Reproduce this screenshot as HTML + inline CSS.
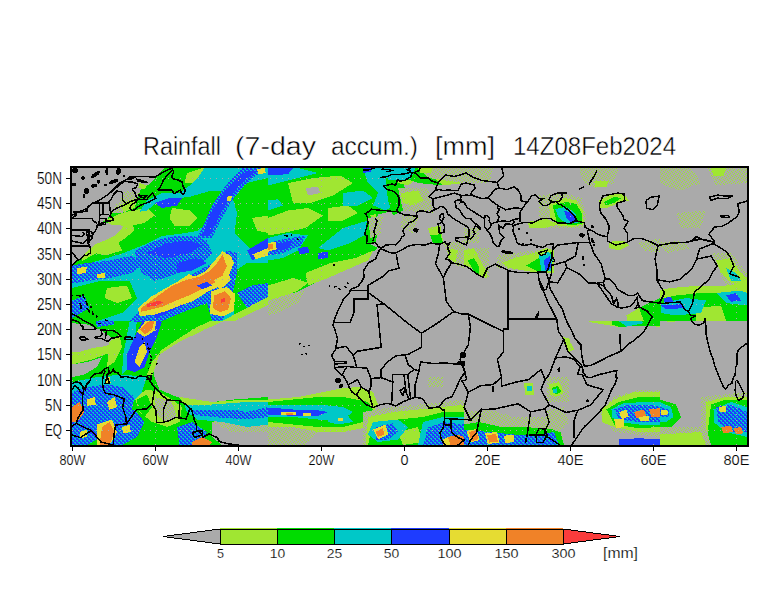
<!DOCTYPE html>
<html><head><meta charset="utf-8"><style>
html,body{margin:0;padding:0;background:#fff;width:784px;height:612px;overflow:hidden}
svg{display:block}
</style></head><body>
<svg width="784" height="612" viewBox="0 0 784 612" shape-rendering="crispEdges">
<defs><clipPath id="mc"><rect x="72" y="168" width="675" height="277"/></clipPath></defs>
<rect width="784" height="612" fill="#fff"/>
<rect x="72" y="168" width="675" height="277" fill="#aaaaaa"/>
<g clip-path="url(#mc)"><defs>
<pattern id="pB" width="4" height="4" patternUnits="userSpaceOnUse"><rect width="4" height="4" fill="#1e3cff"/><rect x="0" y="0" width="2" height="1" fill="#00c8c8"/><rect x="2" y="2" width="2" height="1" fill="#00c8c8"/><rect x="1" y="1" width="1" height="1" fill="#00c8c8"/><rect x="3" y="3" width="1" height="1" fill="#00c8c8"/></pattern>
<pattern id="pL" width="4" height="4" patternUnits="userSpaceOnUse"><rect width="4" height="4" fill="#aaaaaa"/><rect x="0" y="0" width="1" height="1" fill="#a0e632"/><rect x="2" y="1" width="1" height="1" fill="#a0e632"/><rect x="1" y="2" width="1" height="1" fill="#a0e632"/><rect x="3" y="3" width="1" height="1" fill="#a0e632"/></pattern>
<pattern id="pG" width="4" height="4" patternUnits="userSpaceOnUse"><rect width="4" height="4" fill="#00dc00"/><rect x="0" y="0" width="2" height="1" fill="#a0e632"/><rect x="2" y="2" width="2" height="1" fill="#a0e632"/></pattern>
<pattern id="pC" width="4" height="4" patternUnits="userSpaceOnUse"><rect width="4" height="4" fill="#00c8c8"/><rect x="0" y="0" width="2" height="1" fill="#00dc00"/><rect x="2" y="2" width="2" height="1" fill="#00dc00"/></pattern>
</defs>
<clipPath id="z72_168"><rect x="72" y="168" width="196" height="153"/></clipPath><g clip-path="url(#z72_168)">
<polygon fill="#00dc00" points="72.0,264.2 82.0,256.8 89.5,249.2 95.8,244.2 104.5,240.5 114.5,235.5 122.0,228.0 124.5,223.0 118.2,221.8 109.5,223.0 99.5,223.5 107.0,219.2 111.5,213.5 116.0,204.5 122.2,197.2 125.0,191.0 139.2,193.0 141.0,188.5 150.0,184.0 158.0,175.0 164.5,168.0 268.0,168.0 268.0,321.0 72.0,321.0"/>
<polygon fill="url(#pL)" points="111.5,213.5 116.0,204.5 122.2,197.2 125.0,191.0 139.2,193.0 141.0,188.5 134.5,208.0 122.0,213.0"/>
<polygon fill="#a0e632" points="119.5,205.5 129.5,200.5 137.0,198.0 134.5,208.0 124.5,211.8"/>
<polygon fill="#a0e632" points="82.0,256.8 89.5,249.2 95.8,244.2 104.5,240.5 114.5,235.5 122.0,228.0 124.5,223.0 132.0,221.8 134.5,230.5 122.0,240.5 109.5,248.0 94.5,254.2 82.0,261.0"/>
<polygon fill="#a0e632" points="104.5,220.5 122.0,213.0 132.0,210.5 147.0,208.0 154.5,215.5 144.5,223.0 129.5,226.0 112.0,225.0"/>
<polygon fill="#a0e632" points="172.0,208.0 189.5,210.5 197.0,218.0 189.5,225.5 174.5,225.5 169.5,218.0"/>
<polygon fill="#a0e632" points="187.0,173.0 202.0,168.0 212.0,168.0 207.0,178.0 194.5,183.0 184.5,183.0"/>
<polygon fill="#a0e632" points="97.0,243.0 117.0,240.5 122.0,250.5 104.5,255.5 94.5,253.0"/>
<polygon fill="#a0e632" points="139.5,183.0 147.0,185.5 144.5,189.2 138.2,188.0"/>
<polygon fill="#00c8c8" points="139.5,211.8 147.0,200.5 162.0,193.0 179.5,193.0 189.5,185.5 199.5,175.5 204.5,168.0 268.0,168.0 268.0,178.0 247.0,183.0 232.0,190.5 212.0,190.5 189.5,196.8 172.0,199.2 154.5,204.2 147.0,210.5"/>
<polygon fill="#00c8c8" points="72.0,268.0 97.0,261.0 122.0,253.5 147.0,243.5 162.0,236.0 182.0,233.5 197.0,231.0 207.0,223.5 212.0,205.5 222.0,193.0 234.5,183.0 247.0,178.0 268.0,175.5 268.0,321.0 72.0,321.0"/>
<polygon fill="#00dc00" points="232.0,195.5 247.0,183.0 268.0,178.0 268.0,248.0 252.0,250.5 234.5,233.0 237.0,213.0"/>
<polygon fill="#a0e632" points="252.0,218.0 268.0,215.5 268.0,233.0 257.0,230.5"/>
<polygon fill="#00dc00" points="72.0,288.0 102.0,280.5 129.5,280.5 137.0,298.0 122.0,313.0 97.0,321.0 72.0,321.0"/>
<polygon fill="#a0e632" points="107.0,288.0 127.0,285.5 132.0,298.0 117.0,303.0 104.5,298.0"/>
<polygon fill="#00dc00" points="232.0,273.0 247.0,263.0 268.0,263.0 268.0,321.0 234.5,321.0"/>
<polygon fill="#a0e632" points="242.0,293.0 268.0,285.5 268.0,308.0 247.0,308.0"/>
<polygon fill="url(#pB)" points="197.0,238.0 212.0,238.0 222.0,218.0 232.0,200.5 244.5,185.5 259.5,173.0 262.0,168.0 242.0,168.0 232.0,178.0 222.0,190.5 212.0,205.5 204.5,223.0"/>
<polygon fill="#1e3cff" points="202.0,235.5 209.5,235.5 219.5,215.5 229.5,198.0 242.0,183.0 257.0,170.5 247.0,170.5 234.5,180.5 222.0,195.5 212.0,210.5 205.8,225.5"/>
<polygon fill="#1e3cff" points="154.5,203.0 169.5,198.0 182.0,198.0 177.0,205.5 162.0,208.0"/>
<polygon fill="url(#pB)" points="134.5,250.5 154.5,240.5 177.0,235.5 192.0,235.5 207.0,240.5 212.0,253.0 202.0,263.0 187.0,268.0 172.0,275.5 154.5,280.5 142.0,273.0 137.0,263.0"/>
<polygon fill="#1e3cff" points="147.0,253.0 167.0,243.0 189.5,240.5 202.0,245.5 189.5,253.0 167.0,258.0"/>
<polygon fill="#1e3cff" points="177.0,263.0 197.0,258.0 207.0,263.0 192.0,270.5 177.0,273.0"/>
<polygon fill="url(#pB)" points="72.0,265.5 87.0,263.0 109.5,260.5 132.0,255.5 144.5,263.0 132.0,273.0 109.5,278.0 87.0,281.0 72.0,283.5"/>
<polygon fill="url(#pB)" points="129.5,321.0 147.0,303.0 177.0,283.0 212.0,263.0 227.0,250.5 237.0,253.0 237.0,273.0 232.0,298.0 222.0,321.0"/>
<polygon fill="#1e3cff" points="142.0,308.0 172.0,290.5 202.0,273.0 222.0,258.0 232.0,255.5 232.0,268.0 217.0,285.5 197.0,298.0 177.0,308.0 157.0,318.0"/>
<polygon fill="#00dc00" points="162.0,321.0 187.0,310.5 207.0,303.0 212.0,321.0"/>
<polygon fill="#1e3cff" points="247.0,250.5 268.0,238.0 268.0,250.5 252.0,260.5"/>
<polygon fill="url(#pB)" points="237.0,293.0 252.0,285.5 268.0,283.0 268.0,298.0 247.0,308.0"/>
<polygon fill="url(#pB)" points="72.0,300.5 84.5,295.5 89.5,308.0 72.0,318.0"/>
<polygon fill="#a0e632" points="222.0,321.0 268.0,296.8 268.0,305.0 234.5,321.0"/>
<polygon fill="#aaaaaa" points="234.5,321.0 268.0,305.0 268.0,321.0"/>
<polygon fill="#e6dc32" points="137.8,308.8 149.8,297.5 163.8,289.2 179.0,280.8 189.0,273.8 194.5,276.5 205.8,271.0 214.2,261.2 222.5,251.2 231.0,256.2 233.8,263.2 228.2,277.2 221.2,285.8 208.5,291.2 193.0,301.0 179.0,306.0 166.5,311.0 152.5,315.2 139.8,315.8"/>
<polygon fill="#f08228" points="141.2,308.0 151.0,301.0 162.2,292.8 172.0,285.8 186.0,280.0 200.2,276.5 208.5,271.8 217.0,263.2 222.5,254.8 226.8,266.0 222.5,275.8 214.2,282.8 200.2,290.0 189.0,295.5 175.0,301.0 162.2,306.8 151.0,309.5 141.2,311.8"/>
<polygon fill="#1e3cff" points="197.0,285.5 207.0,281.8 212.0,285.5 202.0,289.2"/>
<polygon fill="#e6dc32" points="214.2,280.0 228.2,273.0 231.0,280.0 219.8,289.8"/>
<polygon fill="#e6dc32" points="211.2,291.2 226.8,287.0 235.2,294.0 233.8,311.0 222.5,316.5 210.0,313.8"/>
<polygon fill="#f08228" points="214.2,295.5 225.2,291.2 231.0,298.2 228.2,309.5 219.8,312.2 212.8,308.0"/>
<polygon fill="#fa3c3c" points="146.8,304.2 157.0,301.2 165.0,301.8 157.0,305.5 147.0,307.0"/>
<polygon fill="#fa3c3c" points="220.8,299.2 224.5,298.0 225.2,301.8 221.5,302.5"/>
<polygon fill="#e6dc32" points="77.0,268.0 87.0,266.8 85.8,273.0 77.0,274.2"/>
<polygon fill="#e6dc32" points="97.0,274.2 104.5,273.0 104.5,278.0 97.0,278.0"/>
<polygon fill="#e6dc32" points="227.0,196.8 232.0,195.5 230.8,200.5 226.5,201.0"/>
<polygon fill="#e6dc32" points="257.0,169.2 264.5,168.0 265.8,173.0 258.2,174.2"/>
<polygon fill="#e6dc32" points="253.2,254.2 268.0,248.0 268.0,255.5 255.8,259.2"/>
</g>
<clipPath id="z72_292"><rect x="72" y="321" width="196" height="124"/></clipPath><g clip-path="url(#z72_292)">
<polygon fill="#00dc00" points="72.0,292.0 268.0,292.0 268.0,445.0 72.0,445.0"/>
<polygon fill="#aaaaaa" points="268.0,307.0 247.0,312.0 222.0,319.5 202.0,329.5 187.0,337.0 172.0,344.5 159.5,354.5 152.0,364.5 154.5,377.0 159.5,389.5 177.0,397.0 192.0,402.0 212.0,402.0 234.5,399.5 268.0,397.0"/>
<polygon fill="#a0e632" points="268.0,302.0 247.0,307.0 222.0,315.8 197.0,327.0 177.0,339.5 162.0,349.5 152.0,362.0 147.0,374.5 152.0,377.0 159.5,354.5 177.0,343.2 202.0,330.8 227.0,319.5 268.0,310.8"/>
<polygon fill="#aaaaaa" points="72.0,323.2 87.0,324.5 99.5,329.5 114.5,339.5 107.0,345.8 92.0,348.2 79.5,352.0 72.0,352.0"/>
<polygon fill="#aaaaaa" points="72.0,364.5 87.0,362.0 102.0,357.0 97.0,367.0 84.5,374.5 72.0,377.0"/>
<polygon fill="#a0e632" points="72.0,352.0 79.5,352.0 92.0,348.2 107.0,345.8 114.5,339.5 122.0,342.0 112.0,352.0 92.0,359.5 72.0,364.5"/>
<polygon fill="#a0e632" points="134.5,397.0 147.0,389.5 159.5,392.0 172.0,399.5 182.0,407.0 179.5,422.0 167.0,427.0 152.0,422.0 139.5,412.0"/>
<polygon fill="url(#pL)" points="154.5,397.0 172.0,402.0 177.0,417.0 164.5,422.0 154.5,412.0"/>
<polygon fill="#00dc00" points="137.0,399.5 147.0,394.5 152.0,407.0 144.5,417.0 138.2,409.5"/>
<polygon fill="#aaaaaa" points="212.0,422.0 234.5,417.0 268.0,417.0 268.0,445.0 222.0,445.0 212.0,437.0"/>
<polygon fill="url(#pL)" points="212.0,422.0 234.5,417.0 268.0,417.0 268.0,432.0 232.0,432.0"/>
<polygon fill="#a0e632" points="179.5,397.0 212.0,402.0 247.0,399.5 268.0,399.5 268.0,404.5 222.0,407.0 184.5,404.5"/>
<polygon fill="#00dc00" points="102.0,312.0 127.0,307.0 147.0,317.0 134.5,332.0 127.0,354.5 117.0,374.5 102.0,377.0 109.5,354.5 114.5,339.5"/>
<polygon fill="#a0e632" points="109.5,342.0 119.5,334.5 122.0,347.0 114.5,362.0 107.0,367.0"/>
<polygon fill="#00c8c8" points="129.5,322.0 137.0,319.5 134.5,342.0 129.5,367.0 122.0,374.5 123.2,354.5"/>
<polygon fill="#00c8c8" points="72.0,292.0 102.0,292.0 102.0,312.0 72.0,319.5"/>
<polygon fill="#00c8c8" points="184.5,404.5 212.0,404.5 247.0,402.0 268.0,402.0 268.0,424.5 247.0,427.0 222.0,422.0 197.0,419.5 187.0,412.0"/>
<polygon fill="#00c8c8" points="72.0,382.0 97.0,377.0 122.0,374.5 147.0,377.0 142.0,392.0 132.0,402.0 117.0,412.0 97.0,417.0 72.0,422.0"/>
<polygon fill="#1e3cff" points="129.5,307.0 147.0,297.0 162.0,292.0 207.0,292.0 202.0,302.0 187.0,312.0 167.0,319.5 147.0,322.0 134.5,322.0"/>
<polygon fill="#1e3cff" points="207.0,312.0 222.0,302.0 232.0,292.0 252.0,292.0 247.0,304.5 232.0,314.5 217.0,317.0"/>
<polygon fill="#1e3cff" points="127.0,354.5 134.5,337.0 142.0,322.0 154.5,319.5 162.0,322.0 157.0,337.0 149.5,352.0 144.5,367.0 134.5,372.0 127.0,369.5"/>
<polygon fill="url(#pB)" points="94.5,317.0 112.0,315.8 114.5,324.5 97.0,327.0"/>
<polygon fill="url(#pB)" points="72.0,392.0 87.0,387.0 107.0,384.5 122.0,387.0 134.5,397.0 132.0,409.5 122.0,422.0 112.0,432.0 97.0,439.5 87.0,445.0 72.0,445.0"/>
<polygon fill="url(#pB)" points="112.0,412.0 134.5,409.5 144.5,422.0 137.0,437.0 122.0,445.0 107.0,445.0"/>
<polygon fill="url(#pB)" points="192.0,409.5 212.0,409.5 232.0,409.5 247.0,412.0 268.0,407.0 268.0,417.0 247.0,419.5 212.0,417.0 192.0,414.5"/>
<polygon fill="url(#pB)" points="177.0,427.0 192.0,422.0 207.0,432.0 202.0,445.0 179.5,445.0"/>
<polygon fill="#e6dc32" points="134.5,309.5 152.0,297.0 164.5,292.0 197.0,292.0 184.5,302.0 167.0,312.0 149.5,317.0 137.0,317.0"/>
<polygon fill="#f08228" points="139.5,307.0 154.5,299.5 169.5,292.0 189.5,292.0 177.0,302.0 162.0,309.5 147.0,314.5"/>
<polygon fill="#e6dc32" points="209.5,313.2 214.5,297.0 219.5,292.0 234.5,292.0 234.5,304.5 224.5,315.8"/>
<polygon fill="#f08228" points="212.0,309.5 217.0,299.5 222.0,292.0 232.0,292.0 229.5,302.0 222.0,312.0"/>
<polygon fill="#e6dc32" points="137.0,332.0 145.8,320.8 157.0,318.2 154.5,330.8 144.5,337.0"/>
<polygon fill="#f08228" points="139.5,329.5 147.0,322.0 154.5,319.5 152.0,329.5 144.5,334.5"/>
<polygon fill="#e6dc32" points="134.5,362.0 139.5,347.0 144.5,342.0 147.0,352.0 139.5,367.0"/>
<polygon fill="#e6dc32" points="97.0,424.5 112.0,419.5 117.0,432.0 109.5,445.0 97.0,445.0"/>
<polygon fill="#f08228" points="102.0,427.0 109.5,422.0 114.5,432.0 109.5,445.0 99.5,445.0"/>
<polygon fill="#f08228" points="72.0,407.0 79.5,402.0 84.5,412.0 77.0,422.0 72.0,422.0"/>
<polygon fill="#e6dc32" points="107.0,402.0 114.5,397.0 117.0,407.0 109.5,409.5"/>
<polygon fill="#e6dc32" points="87.0,399.5 94.5,397.0 95.8,404.5 87.0,405.8"/>
<polygon fill="#e6dc32" points="122.0,427.0 129.5,424.5 130.8,432.0 123.2,433.2"/>
<polygon fill="#e6dc32" points="79.5,432.0 87.0,429.5 87.0,437.0 79.5,438.2"/>
<polygon fill="#e6dc32" points="104.5,378.2 109.5,377.0 110.8,383.2 105.8,384.5"/>
<polygon fill="#f08228" points="192.0,442.0 202.0,437.0 212.0,442.0 209.5,445.0 192.0,445.0"/>
</g>
<clipPath id="z268_168"><rect x="268" y="168" width="196" height="153"/></clipPath><g clip-path="url(#z268_168)">
<polygon fill="#00dc00" points="268.0,168.0 385.5,168.0 398.0,183.0 398.0,205.5 385.5,213.0 368.0,215.5 365.5,230.5 368.0,243.0 378.0,248.0 368.0,255.5 353.0,263.0 333.0,273.0 305.5,288.0 283.0,298.0 268.0,304.2"/>
<polygon fill="#a0e632" points="288.0,183.0 313.0,178.0 340.5,175.5 353.0,183.0 333.0,195.5 310.5,203.0 293.0,203.0"/>
<polygon fill="#a0e632" points="268.0,218.0 288.0,210.5 308.0,208.0 323.0,215.5 305.5,228.0 283.0,233.0 268.0,235.5"/>
<polygon fill="#a0e632" points="328.0,208.0 348.0,205.5 358.0,213.0 343.0,220.5 328.0,220.5"/>
<polygon fill="#a0e632" points="305.5,273.0 330.5,263.0 355.5,258.0 373.0,250.5 368.0,260.5 348.0,269.2 328.0,278.0 308.0,285.5"/>
<polygon fill="#a0e632" points="268.0,285.5 293.0,278.0 308.0,283.0 298.0,290.5 280.5,298.0 268.0,303.0"/>
<polygon fill="url(#pL)" points="268.0,300.5 293.0,293.0 305.5,290.5 298.0,303.0 278.0,313.0 268.0,315.5"/>
<polygon fill="#00c8c8" points="268.0,168.0 298.0,168.0 318.0,173.0 298.0,178.0 278.0,183.0 268.0,185.5"/>
<polygon fill="#00c8c8" points="363.0,168.0 385.5,168.0 398.0,183.0 398.0,203.0 385.5,210.5 373.0,205.5 378.0,193.0 368.0,183.0"/>
<polygon fill="#00c8c8" points="268.0,200.5 278.0,199.2 283.0,205.5 268.0,210.5"/>
<polygon fill="#aaaaaa" points="305.5,188.0 318.0,186.8 320.5,193.0 308.0,195.5"/>
<polygon fill="#00c8c8" points="343.0,228.0 368.0,220.5 368.0,233.0 350.5,243.0 328.0,250.5 318.0,248.0"/>
<polygon fill="#00c8c8" points="268.0,238.0 288.0,233.0 308.0,235.5 298.0,250.5 283.0,258.0 268.0,260.5"/>
<polygon fill="#00c8c8" points="343.0,193.0 363.0,190.5 373.0,198.0 358.0,205.5 343.0,205.5"/>
<polygon fill="#1e3cff" points="268.0,168.0 293.0,168.0 288.0,174.2 268.0,175.5"/>
<polygon fill="url(#pB)" points="268.0,243.0 283.0,239.2 305.5,235.5 300.5,245.5 283.0,253.0 268.0,255.5"/>
<polygon fill="#1e3cff" points="268.0,245.5 280.5,243.0 293.0,240.5 288.0,248.0 273.0,251.8"/>
<polygon fill="#1e3cff" points="298.0,248.0 308.0,246.8 309.2,253.0 299.2,254.2"/>
<polygon fill="#1e3cff" points="318.0,253.0 328.0,251.8 328.0,258.0 318.0,259.2"/>
<polygon fill="#1e3cff" points="363.0,168.0 373.0,168.0 370.5,171.8 363.0,173.0"/>
<polygon fill="#e6dc32" points="268.0,243.0 275.5,241.8 276.8,249.2 268.0,251.8"/>
<polygon fill="#f08228" points="268.0,244.2 273.0,243.5 273.5,248.5 268.0,250.0"/>
<polygon fill="#00dc00" points="368.0,211.8 378.0,210.5 379.2,225.5 375.5,243.0 368.0,245.5 365.5,230.5"/>
<polygon fill="#a0e632" points="370.5,215.5 375.5,214.2 376.8,233.0 370.5,238.0"/>
<polygon fill="#00dc00" points="385.5,178.0 400.5,178.0 408.0,193.0 403.0,210.5 393.0,215.5 388.0,200.5"/>
<polygon fill="#a0e632" points="388.0,168.0 408.0,168.0 418.0,178.0 408.0,185.5 398.0,183.0"/>
<polygon fill="#00dc00" points="393.0,168.0 403.0,168.0 408.0,175.5 400.5,180.5"/>
<polygon fill="#00dc00" points="398.0,168.0 464.0,168.0 464.0,183.0 443.0,185.5 418.0,183.0 403.0,178.0"/>
<polygon fill="#a0e632" points="428.0,173.0 448.0,168.0 464.0,168.0 464.0,183.0 443.0,185.5"/>
<polygon fill="#00c8c8" points="385.5,168.0 415.5,168.0 410.5,179.2 388.0,180.5"/>
<polygon fill="url(#pL)" points="398.0,188.0 428.0,188.0 433.0,213.0 403.0,210.5"/>
<polygon fill="#a0e632" points="400.5,193.0 418.0,190.5 423.0,200.5 413.0,205.5 403.0,203.0"/>
<polygon fill="url(#pL)" points="368.0,218.0 383.0,215.5 380.5,233.0 370.5,238.0"/>
<polygon fill="url(#pL)" points="403.0,213.0 418.0,218.0 413.0,233.0 400.5,228.0"/>
<polygon fill="#a0e632" points="428.0,228.0 440.5,225.5 443.0,240.5 433.0,243.0"/>
<polygon fill="#00dc00" points="430.5,235.5 440.5,234.2 443.0,243.0 433.0,243.0"/>
<polygon fill="url(#pL)" points="443.0,243.0 464.0,240.5 464.0,268.0 453.0,263.0"/>
<polygon fill="#a0e632" points="448.0,248.0 458.0,250.5 455.5,263.0 448.0,258.0"/>
<polygon fill="url(#pL)" points="418.0,168.0 464.0,168.0 464.0,183.0 428.0,178.0"/>
<polygon fill="#a0e632" points="418.0,168.0 433.0,168.0 430.5,173.0 420.5,173.0"/>
</g>
<clipPath id="z268_292"><rect x="268" y="321" width="196" height="124"/></clipPath><g clip-path="url(#z268_292)">
<polygon fill="url(#pL)" points="268.0,292.0 313.0,292.0 310.5,302.0 293.0,312.0 275.5,319.5 268.0,319.5"/>
<polygon fill="#00dc00" points="268.0,297.0 283.0,294.5 298.0,297.0 288.0,304.5 273.0,307.0 268.0,307.0"/>
<polygon fill="#a0e632" points="268.0,399.5 298.0,397.0 323.0,392.0 343.0,388.2 358.0,387.0 373.0,392.0 378.0,404.5 373.0,412.0 368.0,427.0 343.0,432.0 318.0,432.0 293.0,427.0 268.0,427.0"/>
<polygon fill="url(#pL)" points="268.0,427.0 293.0,427.0 318.0,432.0 305.5,445.0 268.0,445.0"/>
<polygon fill="#00dc00" points="268.0,402.0 293.0,399.5 318.0,397.0 343.0,397.0 368.0,402.0 373.0,409.5 363.0,422.0 343.0,427.0 318.0,427.0 293.0,424.5 268.0,422.0"/>
<polygon fill="#00c8c8" points="268.0,404.5 293.0,404.5 318.0,404.5 343.0,407.0 353.0,412.0 343.0,419.5 318.0,419.5 293.0,417.0 268.0,417.0"/>
<polygon fill="#1e3cff" points="268.0,407.5 293.0,409.5 313.0,409.5 328.0,412.0 318.0,415.8 293.0,415.8 268.0,414.5"/>
<polygon fill="#e6dc32" points="280.5,412.5 295.5,411.5 295.5,415.0 280.5,415.5"/>
<polygon fill="#f08228" points="285.5,413.0 293.0,412.5 293.0,414.5 285.5,414.5"/>
<polygon fill="#e6dc32" points="303.0,413.5 310.5,413.0 310.5,416.0 303.0,416.0"/>
<polygon fill="#00c8c8" points="328.0,417.0 348.0,415.8 353.0,422.0 338.0,424.5 328.0,422.0"/>
<polygon fill="#e6dc32" points="338.0,418.2 343.0,418.2 343.0,420.8 338.0,420.8"/>
<polygon fill="url(#pL)" points="363.0,412.0 393.0,407.0 418.0,404.5 443.0,402.0 464.0,399.5 464.0,445.0 363.0,445.0"/>
<polygon fill="#a0e632" points="368.0,417.0 393.0,412.0 418.0,409.5 443.0,407.0 464.0,404.5 464.0,445.0 365.5,445.0"/>
<polygon fill="#00dc00" points="373.0,422.0 398.0,419.5 423.0,417.0 443.0,412.0 464.0,412.0 464.0,445.0 368.0,445.0"/>
<polygon fill="#a0e632" points="398.0,432.0 418.0,427.0 423.0,442.0 403.0,445.0"/>
<polygon fill="#00c8c8" points="373.0,422.0 398.0,419.5 408.0,427.0 398.0,439.5 378.0,442.0 368.0,434.5"/>
<polygon fill="url(#pB)" points="375.5,427.0 393.0,423.2 398.0,432.0 388.0,439.5 375.5,439.5"/>
<polygon fill="#e6dc32" points="373.0,429.5 385.5,424.5 388.0,434.5 378.0,439.5"/>
<polygon fill="#f08228" points="375.5,432.0 383.0,428.2 384.2,434.5 378.0,437.0"/>
<polygon fill="#00c8c8" points="423.0,422.0 443.0,417.0 464.0,417.0 464.0,445.0 418.0,445.0"/>
<polygon fill="url(#pB)" points="428.0,427.0 443.0,422.0 464.0,424.5 464.0,445.0 423.0,445.0"/>
<polygon fill="#f08228" points="448.0,437.0 458.0,434.5 464.0,437.0 464.0,445.0 450.5,445.0"/>
<polygon fill="#e6dc32" points="443.0,439.5 448.0,437.0 450.5,445.0 443.0,445.0"/>
<polygon fill="url(#pL)" points="428.0,377.0 443.0,377.0 443.0,387.0 428.0,387.0"/>
</g>
<clipPath id="z464_168"><rect x="464" y="168" width="196" height="153"/></clipPath><g clip-path="url(#z464_168)">
<polygon fill="#a0e632" points="464.0,168.0 484.0,168.0 481.5,175.5 469.0,178.0 464.0,175.5"/>
<polygon fill="url(#pL)" points="464.0,168.0 494.0,168.0 489.0,183.0 464.0,183.0"/>
<polygon fill="url(#pL)" points="539.0,195.5 564.0,193.0 581.5,198.0 586.5,218.0 581.5,228.0 539.0,228.0"/>
<polygon fill="#a0e632" points="549.0,203.0 564.0,198.0 576.5,200.5 582.8,210.5 584.0,224.2 574.0,226.8 559.0,226.0 550.2,218.0"/>
<polygon fill="#00dc00" points="552.8,205.5 566.5,201.8 576.5,204.2 581.5,213.0 581.5,224.2 569.0,225.0 556.5,221.8"/>
<polygon fill="#00c8c8" points="555.2,209.2 566.5,206.8 575.2,213.0 577.8,223.0 566.5,223.5 559.0,218.0"/>
<polygon fill="#1e3cff" points="564.0,210.5 571.5,213.0 577.8,221.8 571.5,223.5 566.5,218.0"/>
<polygon fill="#a0e632" points="527.8,221.8 546.5,219.2 559.0,224.2 546.5,227.5 529.0,227.5"/>
<polygon fill="url(#pL)" points="496.5,255.5 554.0,248.0 554.0,273.0 496.5,268.0"/>
<polygon fill="#a0e632" points="501.5,263.0 514.0,258.0 534.0,253.0 546.5,248.0 554.0,250.5 554.0,273.0 539.0,273.0 524.0,270.5 509.0,268.0"/>
<polygon fill="#00dc00" points="526.5,265.5 539.0,258.0 551.5,251.8 551.5,270.5 539.0,271.8"/>
<polygon fill="#00c8c8" points="539.0,255.5 549.0,251.8 552.8,258.0 551.5,270.5 541.5,270.5"/>
<polygon fill="#1e3cff" points="544.0,260.5 550.2,255.5 551.5,268.0 545.2,270.5"/>
<polygon fill="url(#pL)" points="464.0,248.0 489.0,248.0 489.0,278.0 464.0,268.0"/>
<polygon fill="#a0e632" points="464.0,250.5 474.0,248.0 479.0,258.0 486.5,270.5 486.5,278.0 479.0,275.5 471.5,268.0 464.0,265.5"/>
<polygon fill="#00dc00" points="467.8,260.5 474.0,258.0 479.0,266.8 479.5,274.2 474.0,271.8"/>
<polygon fill="#a0e632" points="599.0,200.5 614.0,193.0 624.0,194.2 629.0,200.5 619.0,203.0 606.5,208.0 600.2,208.0"/>
<polygon fill="#00dc00" points="604.0,201.8 614.0,196.8 621.5,198.0 614.0,203.0 605.2,205.5"/>
<polygon fill="#a0e632" points="609.0,241.8 624.0,240.5 629.0,245.5 619.0,250.5 609.0,248.0"/>
<polygon fill="url(#pL)" points="579.0,168.0 619.0,168.0 614.0,183.0 594.0,188.0 584.0,183.0"/>
<polygon fill="#a0e632" points="594.0,180.5 609.0,180.5 606.5,186.8 595.2,186.8"/>
<polygon fill="url(#pL)" points="639.0,243.0 660.0,238.0 660.0,253.0 644.0,250.5"/>
<polygon fill="url(#pL)" points="464.0,228.0 479.0,228.0 479.0,243.0 464.0,243.0"/>
<polygon fill="#00dc00" points="639.0,308.0 660.0,298.0 660.0,321.0 636.5,321.0"/>
<polygon fill="#a0e632" points="626.5,315.5 639.0,308.0 644.0,321.0 626.5,321.0"/>
</g>
<clipPath id="z464_292"><rect x="464" y="321" width="196" height="124"/></clipPath><g clip-path="url(#z464_292)">
<polygon fill="#a0e632" points="586.5,317.0 614.0,315.8 639.0,312.0 654.0,307.0 660.0,304.5 660.0,327.0 639.0,324.5 619.0,327.0 604.0,324.5 589.0,322.0"/>
<polygon fill="#00dc00" points="611.5,318.2 639.0,314.5 654.0,309.5 660.0,307.0 660.0,325.8 639.0,325.8 619.0,327.0 611.5,324.5"/>
<polygon fill="#00c8c8" points="619.0,321.5 639.0,319.5 644.0,323.2 626.5,326.5"/>
<polygon fill="#1e3cff" points="551.5,388.2 557.8,387.0 559.0,394.5 552.8,394.5"/>
<polygon fill="#a0e632" points="562.8,337.0 569.0,338.2 574.0,349.5 569.0,352.0 564.0,344.5"/>
<polygon fill="url(#pL)" points="546.5,377.0 569.0,377.0 569.0,402.0 546.5,402.0"/>
<polygon fill="#a0e632" points="549.0,384.5 559.0,382.0 564.0,392.0 556.5,397.0 550.2,394.5"/>
<polygon fill="#00dc00" points="551.5,388.2 557.8,385.8 561.5,392.0 555.2,394.5"/>
<polygon fill="#00c8c8" points="552.8,389.5 556.5,388.2 557.0,392.5 553.2,392.5"/>
<polygon fill="#a0e632" points="524.0,383.2 532.8,383.2 534.0,394.5 525.2,394.5"/>
<polygon fill="#00c8c8" points="526.5,385.8 531.5,385.8 531.5,390.8 526.5,390.8"/>
<polygon fill="url(#pL)" points="464.0,412.0 489.0,409.5 514.0,417.0 559.0,417.0 564.0,445.0 464.0,445.0"/>
<polygon fill="#00dc00" points="464.0,424.5 479.0,422.0 501.5,427.0 526.5,427.0 546.5,429.5 559.0,427.0 564.0,445.0 464.0,445.0"/>
<polygon fill="url(#pB)" points="464.0,429.5 489.0,432.0 514.0,434.5 539.0,434.5 554.0,432.0 559.0,445.0 464.0,445.0"/>
<polygon fill="#e6dc32" points="466.5,430.8 476.5,429.0 479.5,440.0 470.2,442.5"/>
<polygon fill="#f08228" points="469.0,432.0 476.5,430.0 478.5,439.0 471.5,441.5"/>
<polygon fill="#e6dc32" points="485.2,433.2 497.0,432.0 499.5,442.5 487.8,444.0"/>
<polygon fill="#f08228" points="487.0,435.0 496.0,434.0 498.0,441.5 489.5,442.5"/>
<polygon fill="#e6dc32" points="504.0,435.8 514.0,434.5 514.0,442.0 505.2,443.2"/>
<polygon fill="url(#pL)" points="546.5,409.5 564.0,407.0 569.0,422.0 559.0,432.0 546.5,427.0"/>
<polygon fill="url(#pL)" points="599.0,412.0 614.0,397.0 639.0,389.5 660.0,389.5 660.0,437.0 614.0,432.0"/>
<polygon fill="#a0e632" points="601.5,409.5 614.0,399.5 634.0,392.0 660.0,392.0 660.0,432.0 639.0,432.0 614.0,427.0 601.5,422.0"/>
<polygon fill="#00dc00" points="606.5,409.5 619.0,402.0 639.0,397.0 660.0,397.0 660.0,427.0 639.0,428.2 614.0,424.5"/>
<polygon fill="#00c8c8" points="611.5,409.5 624.0,403.2 644.0,402.0 660.0,402.0 660.0,424.5 639.0,424.5 619.0,422.0 611.5,417.0"/>
<polygon fill="url(#pB)" points="614.0,409.5 629.0,404.5 649.0,404.5 660.0,407.0 660.0,422.0 639.0,422.0 619.0,419.5"/>
<polygon fill="#e6dc32" points="619.0,412.0 626.5,409.5 629.0,417.0 621.5,418.2"/>
<polygon fill="#f08228" points="634.0,412.0 644.0,409.5 646.5,417.0 636.5,418.2"/>
<polygon fill="#e6dc32" points="614.0,419.5 624.0,418.2 624.0,427.0 616.5,428.2"/>
<polygon fill="#f08228" points="649.0,409.5 660.0,408.2 660.0,417.0 651.5,417.0"/>
<polygon fill="#e6dc32" points="639.0,417.0 649.0,415.8 649.0,420.8 640.2,421.5"/>
<polygon fill="#1e3cff" points="619.0,439.5 639.0,438.2 660.0,439.5 660.0,445.0 619.0,445.0"/>
</g>
<clipPath id="z551_168"><rect x="660" y="168" width="87" height="153"/></clipPath><g clip-path="url(#z551_168)">
<polygon fill="url(#pL)" points="646.0,168.0 691.0,168.0 701.0,183.0 681.0,190.5 656.0,183.0"/>
<polygon fill="url(#pL)" points="706.0,168.0 747.0,168.0 747.0,183.0 716.0,185.5"/>
<polygon fill="#a0e632" points="711.0,168.0 726.0,168.0 723.5,175.5 713.5,175.5"/>
<polygon fill="url(#pL)" points="676.0,213.0 706.0,210.5 701.0,228.0 681.0,228.0"/>
<polygon fill="url(#pL)" points="656.0,243.0 681.0,240.5 691.0,248.0 668.5,253.0"/>
<polygon fill="url(#pL)" points="711.0,253.0 731.0,253.0 747.0,273.0 747.0,288.0 726.0,285.5"/>
<polygon fill="#a0e632" points="716.0,260.5 731.0,258.0 741.0,273.0 747.0,278.0 747.0,285.5 731.0,283.0 721.0,273.0"/>
<polygon fill="#00c8c8" points="726.0,268.0 736.0,273.0 741.0,280.5 731.0,280.5"/>
<polygon fill="#a0e632" points="646.0,293.0 671.0,288.0 701.0,285.5 726.0,285.5 747.0,283.0 747.0,321.0 646.0,321.0"/>
<polygon fill="#00dc00" points="651.0,300.5 676.0,295.5 701.0,293.0 726.0,293.0 747.0,293.0 747.0,321.0 651.0,321.0"/>
<polygon fill="#a0e632" points="696.0,308.0 721.0,305.5 726.0,321.0 696.0,321.0"/>
<polygon fill="#00c8c8" points="661.0,303.0 686.0,298.0 706.0,300.5 701.0,313.0 676.0,315.5 661.0,313.0"/>
<polygon fill="#1e3cff" points="663.5,298.0 671.0,296.8 673.5,301.8 664.8,303.0"/>
<polygon fill="#1e3cff" points="661.0,305.5 681.0,304.2 686.0,308.0 666.0,309.2"/>
<polygon fill="#00c8c8" points="716.0,293.0 741.0,290.5 747.0,293.0 747.0,305.5 726.0,303.0"/>
<polygon fill="#1e3cff" points="726.0,295.5 736.0,293.0 741.0,300.5 731.0,301.8"/>
</g>
<clipPath id="z551_292"><rect x="660" y="321" width="87" height="124"/></clipPath><g clip-path="url(#z551_292)">
<polygon fill="#a0e632" points="651.0,302.0 691.0,294.5 726.0,292.0 747.0,292.0 747.0,307.0 711.0,312.0 691.0,319.5 671.0,322.0 651.0,319.5"/>
<polygon fill="#00dc00" points="656.0,307.0 681.0,302.0 701.0,297.0 726.0,294.5 747.0,294.5 747.0,304.5 711.0,307.0 691.0,314.5 671.0,317.0"/>
<polygon fill="#00c8c8" points="661.0,307.0 681.0,303.2 691.0,307.0 681.0,313.2 666.0,314.5"/>
<polygon fill="#1e3cff" points="663.5,304.5 676.0,303.2 678.5,308.2 664.8,309.5"/>
<polygon fill="#00c8c8" points="706.0,297.0 726.0,295.8 747.0,294.5 747.0,302.0 726.0,303.2 711.0,304.5"/>
<polygon fill="#1e3cff" points="721.0,294.5 736.0,293.2 747.0,293.2 747.0,299.5 731.0,299.5"/>
<polygon fill="#00dc00" points="660.0,399.5 676.0,404.5 681.0,417.0 671.0,427.0 660.0,427.0"/>
<polygon fill="#00c8c8" points="660.0,402.0 671.0,407.0 673.5,417.0 666.0,422.0 660.0,422.0"/>
<polygon fill="url(#pB)" points="660.0,407.0 668.5,409.5 668.5,417.0 660.0,417.0"/>
<polygon fill="#e6dc32" points="661.0,409.5 668.5,410.8 667.2,414.5 661.0,414.5"/>
<polygon fill="url(#pL)" points="701.0,397.0 747.0,392.0 747.0,445.0 701.0,445.0"/>
<polygon fill="#a0e632" points="706.0,402.0 726.0,397.0 747.0,397.0 747.0,445.0 701.0,445.0 706.0,432.0"/>
<polygon fill="#00dc00" points="711.0,404.5 726.0,399.5 747.0,399.5 747.0,445.0 706.0,445.0"/>
<polygon fill="#00c8c8" points="713.5,409.5 731.0,402.0 747.0,407.0 747.0,437.0 726.0,432.0 713.5,422.0"/>
<polygon fill="url(#pB)" points="716.0,407.0 731.0,404.5 747.0,412.0 747.0,432.0 731.0,432.0 718.5,422.0"/>
<polygon fill="#e6dc32" points="718.5,407.0 726.0,405.8 726.0,412.0 719.8,412.0"/>
<polygon fill="#f08228" points="721.0,427.0 731.0,425.8 733.5,432.0 723.5,433.2"/>
<polygon fill="#f08228" points="733.5,428.2 741.0,427.0 743.5,433.2 736.0,434.5"/>
<polygon fill="url(#pL)" points="660.0,427.0 706.0,427.0 711.0,445.0 660.0,445.0"/>
<polygon fill="#a0e632" points="660.0,434.5 701.0,432.0 706.0,445.0 660.0,445.0"/>
</g>
<g stroke="#aaaaaa" stroke-width="1" stroke-dasharray="1,5" shape-rendering="crispEdges" fill="none"><path d="M72,430.5H747"/><path d="M72,405.5H747"/><path d="M72,380.5H747"/><path d="M72,354.5H747"/><path d="M72,329.5H747"/><path d="M72,304.5H747"/><path d="M72,279.5H747"/><path d="M72,254.5H747"/><path d="M72,228.5H747"/><path d="M72,203.5H747"/><path d="M72,178.5H747"/><path d="M155.5,168V445"/><path d="M238.5,168V445"/><path d="M321.5,168V445"/><path d="M404.5,168V445"/><path d="M487.5,168V445"/><path d="M570.5,168V445"/><path d="M653.5,168V445"/><path d="M736.5,168V445"/></g>
<g fill="none" stroke="#000" stroke-width="1.5" shape-rendering="crispEdges"><path d="M72.0,296.4 L71.6,293.9 L69.5,286.4 L67.8,281.3 L66.2,275.3 L67.0,271.2 L68.3,268.7 L72.4,264.7 L76.2,261.2 L80.3,259.1 L84.5,255.1 L86.5,255.6 L90.7,252.6 L90.3,247.6 L88.6,244.0 L87.4,243.5 L87.8,238.5 L86.5,232.4 L88.6,230.9 L89.0,242.0 L91.9,238.5 L92.3,234.4 L90.7,230.9 L93.2,233.9 L95.2,231.4 L96.9,227.9 L96.9,225.4 L98.6,223.9 L105.2,222.4 L107.7,220.8 L110.6,220.8 L113.5,219.8 L113.1,218.3 L109.8,216.3 L111.0,213.3 L112.7,210.3 L117.7,207.7 L121.8,206.2 L126.0,204.2 L130.1,201.7 L134.2,200.2 L137.2,200.2"/><path d="M96.9,225.4 L105.2,224.4 L105.6,222.9"/><path d="M137.2,201.2 L130.9,205.2 L129.7,208.7 L133.0,210.8 L140.1,205.2 L148.8,202.2 L150.9,200.7 L155.8,198.2 L152.5,193.1 L148.8,196.6 L146.7,199.7 L141.3,199.7 L138.4,198.7 L137.2,201.2"/><path d="M138.4,198.7 L136.3,196.6 L135.1,193.1 L132.2,189.1 L135.9,187.6 L137.6,184.0 L132.2,182.0 L123.9,181.5 L115.6,188.1 L108.5,194.1 L98.6,200.7 L92.8,203.2 L87.4,207.2"/><path d="M108.5,194.1 L113.5,189.1 L119.7,183.0 L125.1,180.5 L130.1,177.0 L142.6,176.5 L155.0,177.0 L165.4,170.9 L172.8,167.9"/><path d="M138.4,195.1 L146.7,196.1 L144.6,198.2 L139.6,196.6 L138.4,195.1"/><path d="M136.3,179.0 L147.9,182.5 L138.4,181.5 L136.3,179.0"/><path d="M157.9,190.1 L161.2,185.6 L163.3,180.5 L167.4,175.0 L172.8,169.9 L173.7,172.0 L171.6,177.0 L173.7,179.0 L177.8,180.0 L182.0,182.0 L183.2,187.1 L184.9,189.1 L185.3,191.1 L183.6,194.6 L181.6,193.6 L180.3,190.1 L177.8,191.6 L174.1,193.6 L171.6,190.1 L165.4,190.1 L157.9,190.1"/><path d="M72.8,211.8 L80.3,211.3 L87.8,208.2 L87.4,210.8 L82.4,211.8 L76.2,212.3 L72.8,211.8"/><path d="M72.0,217.8 L76.2,215.3 L75.7,213.8 L72.0,215.3"/><path d="M76.2,212.3 L75.7,213.8"/><path d="M87.4,207.2 L92.8,203.2 L94.0,203.2 L107.3,203.2 L108.9,201.7 L111.0,199.7 L113.5,194.6 L116.8,191.1 L121.0,191.6 L122.6,193.1 L122.6,199.7 L126.0,203.2"/><path d="M72.0,218.3 L91.5,218.3 L94.0,221.3 L97.3,223.4"/><path d="M72.0,229.9 L89.4,229.9 L89.4,236.0 L92.3,236.0"/><path d="M72.0,246.0 L89.0,246.0"/><path d="M99.4,203.2 L99.8,214.8 L99.0,223.4"/><path d="M103.1,203.2 L103.1,214.8"/><path d="M99.8,218.3 L106.0,218.3 L106.0,221.8"/><path d="M108.9,201.7 L110.6,212.8"/><path d="M99.8,214.8 L109.3,214.3"/><path d="M72.0,252.6 L78.2,259.6"/><path d="M72.0,241.0 L83.2,243.5 L87.8,238.5"/><path d="M72.0,235.5 L82.4,236.5 L84.5,234.4 L82.4,231.9"/><path d="M76.2,295.4 L80.7,295.9"/><path d="M82.4,293.9 L83.6,296.4 L84.5,299.0"/><path d="M79.9,303.0 L81.1,306.5 L81.5,309.0 L80.3,306.5"/><path d="M85.7,301.0 L87.8,305.5"/><path d="M86.5,308.0 L90.3,312.6"/><path d="M90.7,306.0 L91.5,308.5"/><path d="M91.9,311.6 L93.6,315.1"/><path d="M96.1,315.6 L97.3,317.6"/><path d="M98.1,323.7 L101.1,323.2"/><path d="M105.2,319.6 L107.3,321.1"/><path d="M72.0,313.6 L78.2,317.1 L84.5,321.1 L90.3,323.7 L96.1,328.2 L94.8,329.2 L90.7,329.7 L82.4,329.7 L83.6,326.7 L81.5,325.7 L78.2,321.6 L72.0,319.6"/><path d="M79.1,337.3 L84.5,336.8 L87.4,339.3 L85.3,339.8 L81.1,339.8 L79.1,337.3"/><path d="M95.2,336.8 L100.2,336.3 L101.9,334.2 L101.1,329.7 L105.2,330.2 L113.5,330.7 L117.7,333.2 L120.6,336.3 L114.3,337.8 L111.0,338.3 L107.7,341.3 L101.9,338.8 L95.2,337.8 L95.2,336.8"/><path d="M106.4,330.7 L106.0,335.2 L105.2,339.3"/><path d="M125.1,336.8 L131.8,337.3 L131.8,339.3 L125.1,339.3 L125.1,336.8"/><path d="M134.2,337.3 L135.9,337.3"/><path d="M142.1,338.8 L143.0,339.8"/><path d="M143.4,342.8 L144.6,343.8"/><path d="M147.1,343.8 L147.9,344.3"/><path d="M147.5,347.8 L150.0,348.4 L148.8,349.9"/><path d="M149.2,351.4 L149.6,353.4"/><path d="M150.0,355.4 L151.7,357.4"/><path d="M150.9,358.9 L151.3,361.0"/><path d="M150.0,362.5 L150.4,364.0"/><path d="M147.9,368.5 L148.4,369.5"/><path d="M156.7,363.0 L157.1,364.5"/><path d="M151.7,373.0 L152.9,373.6"/><path d="M147.1,375.6 L150.9,375.6 L150.9,379.1 L147.1,379.1 L148.8,377.1"/><path d="M72.0,383.6 L76.2,381.6 L80.3,383.1 L82.8,386.2 L85.3,389.7 L86.5,384.6 L90.3,380.6 L90.7,377.6 L93.6,374.6 L96.1,373.6 L101.1,373.0 L105.2,368.5 L108.1,367.5 L109.3,372.0 L106.9,375.1 L107.3,376.1 L109.3,383.1 L105.2,383.6 L106.9,375.6 L108.9,373.6 L112.7,371.5 L113.5,368.5 L114.3,372.0 L117.7,372.5 L121.0,377.1 L126.0,376.6 L130.1,377.6 L135.5,378.6 L139.2,376.1 L146.7,376.6 L148.8,379.6 L150.9,382.1 L152.9,385.6 L155.8,388.2 L162.5,395.7 L167.4,399.8 L171.6,400.3 L179.9,400.8 L187.0,405.3 L189.9,408.8 L191.5,408.8 L194.4,419.9 L196.5,425.0 L196.5,430.0 L198.6,431.0 L202.7,431.0 L202.7,437.1 L209.0,434.0 L217.2,437.6 L219.3,441.6 L229.7,444.1 L238.0,444.6 L244.2,448.6"/><path d="M192.4,432.5 L198.6,431.0 L202.3,435.0 L194.4,437.6 L192.4,432.5"/><path d="M72.0,389.7 L74.9,385.6 L78.2,388.2 L80.3,392.2 L82.8,394.7 L82.4,402.3 L83.2,409.8 L78.2,417.4 L76.2,423.4 L72.0,426.0"/><path d="M82.8,386.2 L83.6,390.2 L82.8,394.7"/><path d="M105.2,370.5 L103.5,374.6 L102.3,382.1 L103.5,389.7 L105.2,393.2 L113.5,394.7 L124.3,398.8 L122.6,407.3 L126.0,417.4 L126.4,424.0"/><path d="M76.2,423.4 L84.5,427.5 L91.5,430.5 L101.1,442.1 L113.5,445.1"/><path d="M113.5,445.1 L113.9,435.0 L115.6,425.0 L126.0,424.0 L126.4,424.0 L136.3,409.8 L146.7,408.8 L152.1,403.8 L155.0,387.2"/><path d="M152.1,403.8 L155.8,409.8 L156.7,422.4 L163.3,422.4 L169.5,420.4 L175.8,417.4 L186.1,418.9 L189.9,408.8"/><path d="M167.4,399.8 L163.3,409.8 L163.3,422.4"/><path d="M179.9,400.8 L178.7,418.4"/><path d="M72.0,435.0 L80.3,437.6 L91.5,430.5"/><path d="M362.5,169.9 L368.7,169.9 L375.0,167.9 L377.9,166.4"/><path d="M380.3,177.5 L387.4,176.5 L391.6,174.5 L397.8,174.5 L404.0,174.0 L409.8,172.5 L410.2,170.9 L407.3,169.9 L411.1,167.9"/><path d="M386.6,172.0 L391.6,170.4 L387.4,169.4 L382.4,169.4 L383.2,167.9"/><path d="M396.5,211.3 L399.0,205.2 L399.0,200.7 L399.0,197.2 L394.9,192.1 L391.6,190.6 L386.2,189.1 L384.1,186.1 L391.6,184.0 L395.7,185.1 L397.4,179.5 L399.9,181.0 L404.4,180.5 L410.6,177.0 L411.9,173.0 L414.4,172.5 L418.5,170.9 L420.6,167.9"/><path d="M396.5,211.3 L391.6,211.3 L388.2,210.8 L380.3,210.3 L371.2,209.2 L369.1,211.3 L365.4,213.8 L367.5,217.3 L367.9,222.9 L364.6,234.4 L367.1,236.0 L366.7,243.5 L371.2,243.5 L375.4,242.5 L377.9,246.0 L380.8,248.6 L385.7,245.0 L393.6,244.5 L395.7,245.0 L399.9,240.5 L401.9,237.0 L404.8,235.0 L402.8,230.9 L404.0,228.4 L407.7,224.9 L409.0,222.9 L413.1,221.3 L417.7,216.8 L416.5,214.8 L416.9,212.3 L420.2,210.8 L423.9,211.3 L426.4,211.8 L428.9,212.8 L434.3,209.8 L437.2,208.7 L440.9,206.2 L444.7,207.7 L446.7,210.8 L447.6,213.8 L450.5,216.3 L454.6,219.3 L460.0,222.4 L462.9,224.4 L465.4,225.4 L468.7,228.4 L469.2,233.4 L468.7,238.0 L470.4,239.0 L472.9,236.5 L475.0,233.4 L472.9,230.4 L475.4,225.9 L478.7,227.9 L480.4,229.4 L480.8,227.9 L478.3,225.4 L474.1,222.9 L470.8,218.8 L466.3,218.3 L462.9,215.8 L460.0,210.3 L456.3,207.7 L455.0,201.2 L458.0,199.7 L461.3,200.2 L460.4,202.7 L463.3,201.7 L466.3,205.7 L467.1,207.7 L472.1,210.8 L479.1,215.3 L481.6,216.8 L484.5,218.8 L484.5,221.8 L484.5,226.4 L487.0,229.9 L489.9,233.9 L491.6,237.0 L493.6,243.5 L497.4,246.5 L499.5,246.0 L500.3,242.0 L502.4,239.0 L503.6,237.5 L499.5,233.4 L499.0,225.4 L502.8,228.4 L505.7,223.9 L511.5,224.4 L512.7,225.4 L513.6,227.9 L512.7,230.9 L515.2,236.5 L517.3,243.5 L520.2,244.5 L524.4,245.5 L531.4,244.0 L536.8,246.0 L543.0,247.6 L547.6,244.5 L553.4,244.0 L553.0,249.1 L552.6,251.1 L551.3,256.6 L551.3,259.1 L549.2,264.7 L548.4,268.2 L546.3,272.2 L538.0,272.2 L528.1,272.8 L516.0,272.2 L508.6,270.7 L503.6,268.2 L495.3,264.2 L487.4,268.2 L482.9,277.3 L476.6,273.8 L467.1,266.7 L458.8,264.2 L451.7,262.7 L449.2,260.2 L445.9,259.1 L448.8,254.6 L450.1,252.6 L448.0,249.6 L447.6,246.0 L449.7,243.0 L446.7,244.0 L445.1,242.0 L439.7,244.0 L436.4,244.0 L431.0,243.0 L424.8,245.0 L416.5,244.5 L408.2,246.0 L401.5,250.1 L394.9,253.1 L389.5,252.6 L382.0,249.1 L379.5,249.6 L375.8,258.6 L372.5,260.7 L368.7,262.7 L365.8,267.2 L363.3,271.2 L364.2,276.8 L361.7,281.8 L357.9,286.4 L350.5,289.4 L349.2,293.4 L343.8,298.5 L338.0,310.6 L335.5,316.6 L333.0,324.7 L335.5,331.7 L337.6,338.8 L335.5,349.4 L331.4,355.9 L334.3,360.4 L334.7,362.5 L334.7,368.0 L339.7,373.0 L343.8,376.6 L347.1,382.1 L349.2,387.2 L352.1,392.2 L356.7,395.2 L359.2,398.2 L366.7,404.8 L372.9,407.8 L379.9,404.8 L387.4,403.3 L395.7,405.8 L403.2,401.8 L409.0,399.3 L414.0,397.7 L418.1,397.7 L422.7,398.8 L426.8,404.8 L428.9,408.3 L433.1,407.8 L439.3,406.8 L443.4,410.3 L444.3,409.8 L444.7,417.4 L443.8,424.5 L443.0,428.0 L440.1,433.0 L441.4,440.1 L445.5,445.1 L449.7,449.7"/><path d="M443.0,213.3 L443.8,217.3 L442.2,221.3 L439.7,218.8 L440.1,215.3 L443.0,213.3"/><path d="M442.2,222.4 L444.7,225.9 L443.8,232.4 L439.3,233.4 L438.9,227.4 L438.0,223.9 L442.2,222.4"/><path d="M455.5,238.0 L468.7,237.0 L467.1,242.5 L466.3,245.0 L455.9,240.5 L455.5,238.0"/><path d="M501.5,250.6 L513.1,252.6 L509.8,253.6 L503.6,252.6 L501.5,250.6"/><path d="M538.0,253.1 L547.2,250.1 L545.1,254.1 L541.0,255.6 L538.0,253.1"/><path d="M414.0,228.9 L418.1,229.4 L416.5,231.9 L414.0,230.4 L414.0,228.9"/><path d="M329.3,284.8 L330.1,286.4"/><path d="M333.9,286.9 L336.8,286.4"/><path d="M338.4,287.9 L340.1,289.9"/><path d="M344.2,285.9 L346.3,287.9"/><path d="M346.7,283.8 L348.4,282.8"/><path d="M300.7,343.3 L299.0,344.8"/><path d="M303.2,346.3 L304.4,346.8"/><path d="M309.0,345.3 L309.0,346.3"/><path d="M305.6,352.9 L306.9,354.9"/><path d="M302.7,354.9 L301.5,354.4"/><path d="M284.5,235.5 L287.8,236.0"/><path d="M296.9,239.0 L299.4,239.5"/><path d="M290.7,234.4 L292.0,235.0"/><path d="M332.6,264.7 L334.7,265.2"/><path d="M520.2,222.4 L519.8,215.8 L520.2,212.3 L523.1,207.2 L527.3,202.2 L531.8,195.6 L535.1,195.1 L538.9,198.2 L543.4,198.7 L538.9,201.2 L543.0,205.7 L547.2,205.2 L551.3,202.7 L555.1,202.2 L551.3,201.2 L549.2,199.7 L550.9,195.6 L557.6,193.1 L567.1,192.6 L561.7,194.1 L562.5,196.6 L559.6,201.2 L555.9,201.7 L559.6,204.7 L560.9,204.7 L568.8,210.3 L574.2,215.3 L576.6,220.3 L570.0,223.4 L568.8,223.4 L557.6,222.9 L550.1,218.3 L541.0,218.8 L532.7,222.9 L524.8,222.4 L520.2,223.4 L514.0,225.4 L512.7,225.4"/><path d="M599.1,205.7 L601.1,200.2 L603.2,195.6 L607.4,195.1 L617.7,193.1 L624.0,194.1 L624.8,200.7 L616.9,203.2 L617.3,207.2 L623.1,215.8 L623.5,219.3 L628.1,221.3 L624.0,228.4 L627.7,233.4 L627.7,242.0 L615.7,245.0 L607.4,241.0 L607.4,236.0 L609.4,226.9 L605.7,218.8 L601.1,213.8 L599.1,205.7"/><path d="M645.9,200.7 L650.9,197.2 L659.2,196.1 L657.2,205.7 L653.0,209.8 L646.8,208.2 L645.9,200.7"/><path d="M709.0,197.2 L717.3,195.1 L725.6,196.1 L732.7,195.6 L727.7,198.7 L717.3,198.2 L711.1,200.2 L709.0,197.2"/><path d="M720.2,216.3 L728.5,215.3 L729.4,217.3 L721.5,217.3 L720.2,216.3"/><path d="M588.7,184.6 L593.7,177.0 L597.0,170.4"/><path d="M579.1,189.1 L584.5,186.6"/><path d="M396.5,211.3 L404.0,214.8 L410.2,215.3 L417.3,216.3"/><path d="M375.0,218.8 L377.0,220.8 L375.0,228.4 L373.7,230.9 L375.0,234.4 L372.9,241.0"/><path d="M435.1,209.2 L433.1,205.7 L433.1,198.7 L428.9,196.6 L435.1,190.1 L439.3,189.6 L443.4,190.6"/><path d="M428.9,196.6 L433.1,198.7 L439.3,197.2 L447.6,195.1 L454.6,193.1 L461.3,195.6 L460.4,200.2"/><path d="M435.1,190.1 L438.0,183.0 L430.6,180.5 L428.5,178.0 L420.6,178.0 L414.4,172.5"/><path d="M438.0,183.0 L445.5,175.0 L454.6,176.5 L466.3,173.0 L472.5,177.0 L482.0,180.5 L497.4,182.5 L503.6,175.5 L501.9,167.9"/><path d="M443.4,190.6 L447.6,190.1 L458.0,190.6 L461.3,184.0 L466.3,183.0 L474.1,185.1 L475.0,188.1 L472.5,190.6 L470.8,194.1 L472.9,195.6 L482.0,198.7 L488.2,197.7 L495.3,189.1 L499.0,188.1 L497.4,182.5"/><path d="M498.2,205.7 L505.7,209.8 L516.0,207.7 L522.7,209.2"/><path d="M513.1,219.8 L518.1,218.3 L520.2,218.3"/><path d="M589.9,242.5 L587.4,230.9 L589.9,229.9"/><path d="M538.9,278.8 L539.3,281.3 L541.0,287.4 L544.3,292.9 L547.6,301.5 L551.7,309.5 L556.7,319.1 L558.4,331.2 L563.8,339.3 L567.9,351.4 L574.2,357.9 L581.2,364.5 L583.3,371.0 L582.9,372.0 L586.6,377.1 L590.8,377.6 L599.1,374.6 L603.2,373.6 L616.9,370.5 L615.7,377.6 L617.3,377.6 L614.8,384.6 L611.5,389.7 L607.4,399.8 L605.3,404.8 L599.1,412.4 L592.0,419.9 L584.5,426.5 L580.4,432.0 L576.2,438.6 L574.2,441.6 L570.4,446.1"/><path d="M538.0,272.2 L538.9,278.8"/><path d="M538.9,278.8 L539.7,280.8 L543.9,289.9 L546.3,289.4 L548.8,281.3 L549.2,281.3 L548.8,282.3 L550.1,288.9 L552.2,292.4 L555.5,298.0 L558.8,304.0 L562.1,308.5 L566.7,321.6 L572.1,331.7 L575.4,339.3 L580.8,344.8 L581.6,354.4 L583.3,363.0 L584.5,366.0 L590.8,365.5 L597.0,362.5 L603.2,359.4 L607.8,356.9 L620.6,351.4 L628.1,344.3 L634.3,340.3 L640.6,334.7 L643.9,331.7 L646.8,326.7 L652.2,316.6 L647.2,311.1 L639.3,307.0 L637.6,301.5 L637.6,296.9 L633.5,303.0 L629.8,306.5 L621.9,308.0 L618.1,307.5 L618.1,302.5 L616.5,298.5 L614.8,301.5 L613.6,304.0 L611.9,296.9 L609.4,292.9 L605.3,288.9 L603.2,282.3 L605.3,278.8 L609.4,278.8 L614.8,284.3 L617.7,289.4 L621.9,291.9 L628.1,295.4 L634.3,295.4 L637.6,292.9 L641.8,300.0 L643.9,301.0 L650.9,302.0 L655.5,302.5 L662.5,303.5 L671.7,302.5 L680.0,302.0 L682.1,305.0 L684.1,309.0 L688.3,311.6 L690.4,315.1 L695.3,316.1 L692.4,317.6 L690.4,319.1 L694.5,324.2 L698.7,325.2 L703.6,323.2 L705.3,318.1 L705.7,323.7 L706.1,334.2 L707.8,341.8 L710.3,351.9 L713.2,359.4 L714.4,365.0 L717.3,372.0 L720.2,379.6 L723.6,387.2 L725.6,389.2 L728.5,385.1 L731.9,383.1 L733.1,378.1 L735.2,374.6 L735.6,367.0 L737.2,364.0 L736.8,354.4 L738.1,350.4 L741.4,347.3 L745.5,344.3 L746.8,343.8"/><path d="M735.6,380.6 L737.2,380.6 L741.0,387.2 L743.9,393.2 L742.6,398.2 L738.5,400.3 L736.0,395.7 L735.2,390.2 L735.6,380.6"/><path d="M396.5,253.6 L396.9,258.6 L399.0,268.2 L389.1,270.7 L383.2,276.3 L367.9,285.4 L367.9,290.4 L350.1,290.4"/><path d="M367.9,290.4 L367.9,299.0 L354.2,299.0 L354.2,311.6 L350.1,322.6 L333.5,322.6"/><path d="M367.9,292.4 L384.1,304.0 L377.0,304.5 L381.2,347.3 L356.7,351.4 L353.4,355.4 L345.9,346.3 L335.5,348.4"/><path d="M384.1,304.0 L409.0,324.2 L421.4,333.2 L421.4,347.3 L408.2,354.4 L404.8,354.9 L395.7,355.9 L387.4,362.0 L381.2,369.5 L381.2,377.6 L370.8,378.6 L369.6,374.6 L366.7,368.0 L356.7,367.5 L353.4,355.4"/><path d="M334.7,361.5 L346.7,361.5 L346.7,363.0 L334.7,364.0"/><path d="M334.7,367.5 L347.1,366.5 L356.7,367.5"/><path d="M347.1,366.5 L341.8,375.1"/><path d="M348.8,384.6 L357.5,379.6 L361.3,387.2 L356.3,395.2"/><path d="M361.3,387.2 L368.7,391.7 L370.8,387.2 L370.8,378.6"/><path d="M368.7,391.7 L372.9,407.8"/><path d="M381.2,377.6 L392.8,382.1 L391.6,404.3"/><path d="M392.8,382.1 L392.4,374.6 L404.0,374.6 L406.1,392.2 L409.0,399.3"/><path d="M407.7,374.6 L410.6,398.8"/><path d="M404.0,374.6 L407.7,374.6 L414.0,369.5 L418.9,371.0 L415.2,384.6 L415.2,397.7"/><path d="M404.8,354.9 L408.2,364.5 L414.0,369.5"/><path d="M421.4,333.2 L435.1,324.7 L453.8,311.6 L462.1,314.1 L468.3,314.1 L470.4,327.2 L468.3,344.8 L460.0,359.4 L462.1,364.0"/><path d="M418.9,371.0 L420.6,362.0 L433.1,363.5 L445.5,363.0 L455.9,364.0 L462.1,364.0 L465.0,372.0 L460.0,379.6 L453.8,393.2 L451.7,396.7 L444.7,399.3 L439.3,406.8"/><path d="M462.1,364.0 L466.7,379.6 L462.1,381.1 L468.3,392.2 L464.2,407.3 L470.4,419.9 L450.9,418.9 L444.7,418.4"/><path d="M444.7,425.0 L450.9,425.0 L450.9,418.9"/><path d="M450.9,425.0 L451.7,432.5 L458.0,437.6 L464.2,440.1 L451.7,449.7"/><path d="M470.4,419.9 L481.2,409.8 L476.6,432.5 L470.4,440.1 L467.1,447.6"/><path d="M468.3,392.2 L480.8,385.6 L493.2,384.6 L501.5,377.1 L497.4,359.4 L503.6,351.9 L503.6,331.7 L468.3,314.1"/><path d="M481.2,409.8 L495.3,408.8 L518.1,403.8 L530.6,411.9 L545.1,408.8 L549.2,404.8 L541.0,389.7 L545.1,379.6 L541.0,369.5 L528.5,379.6 L516.0,382.1 L501.5,386.2 L501.5,377.1"/><path d="M530.6,411.9 L526.8,437.1"/><path d="M545.1,408.8 L549.2,422.4 L545.1,430.0 L544.7,435.0 L528.5,435.0"/><path d="M544.7,435.0 L560.0,445.1"/><path d="M549.2,404.8 L565.9,412.4 L577.9,410.3 L574.2,419.9 L574.2,438.1"/><path d="M577.9,410.3 L590.8,404.8 L603.2,389.7 L586.6,384.6 L582.5,374.6 L577.5,374.6 L580.0,367.0 L574.2,359.4 L565.9,356.9 L555.5,357.9 L563.8,339.3"/><path d="M555.5,357.9 L549.2,374.6 L545.1,379.6"/><path d="M443.4,277.8 L446.3,301.5 L453.8,311.6"/><path d="M451.7,262.7 L446.3,271.2 L443.4,277.8 L435.5,263.7 L438.4,253.6 L439.7,244.0"/><path d="M507.8,270.7 L507.8,319.1 L507.8,329.2 L503.6,329.2 L503.6,331.7"/><path d="M507.8,319.1 L557.1,319.1"/><path d="M546.3,272.2 L548.8,281.3"/><path d="M551.3,263.7 L551.3,273.8 L549.2,281.3"/><path d="M549.2,281.8 L557.6,282.8 L561.7,276.3 L566.7,267.7 L565.0,261.7 L552.2,265.2"/><path d="M553.4,248.6 L557.6,245.0 L578.3,242.5 L575.4,256.1 L565.0,261.7"/><path d="M566.7,267.7 L578.3,273.3 L588.7,282.8 L597.0,283.3 L603.2,282.3"/><path d="M597.0,283.3 L604.9,286.4"/><path d="M578.3,242.5 L589.9,242.5 L594.1,253.6 L601.1,263.7 L605.3,278.8"/><path d="M551.7,255.6 L554.6,260.7 L552.6,262.2"/><path d="M597.0,283.3 L601.1,288.9 L611.5,304.0 L618.1,307.5"/><path d="M637.6,296.9 L637.6,304.5 L635.6,308.0 L639.3,307.0"/><path d="M627.7,242.0 L633.9,238.5 L641.8,238.5 L650.9,242.0 L658.0,245.5 L655.1,258.6 L657.2,271.7 L656.7,279.8 L660.5,286.4 L664.6,292.9 L659.6,303.0"/><path d="M656.7,279.8 L669.6,281.8 L680.0,279.3 L691.6,269.2 L696.6,259.1 L699.5,249.1 L713.2,243.5"/><path d="M658.0,245.5 L671.7,243.0 L685.4,242.5 L694.5,240.5 L700.7,239.0 L714.8,242.0"/><path d="M713.2,243.5 L725.6,251.1 L729.8,256.1 L733.9,266.2 L729.8,273.8 L736.8,276.3 L740.2,277.8"/><path d="M709.0,233.9 L714.8,226.9 L721.5,226.4 L727.7,223.4 L736.8,216.8"/><path d="M709.0,233.9 L714.8,242.0"/><path d="M696.6,259.1 L711.1,256.1 L717.3,266.2 L713.2,271.2 L709.0,279.3 L698.7,288.9 L694.5,291.4 L692.4,304.0 L688.3,311.6"/><path d="M460.4,200.2 L460.9,195.6 L466.3,195.1 L472.5,195.6 L482.0,198.7 L488.2,197.7 L493.2,202.2 L498.2,205.7 L497.4,208.2 L499.5,209.2 L497.0,213.8 L499.0,216.8 L497.4,221.8 L490.7,223.9 L489.1,220.8 L489.5,218.3 L487.4,215.3 L485.3,215.3 L484.5,218.8"/><path d="M490.7,223.9 L491.2,225.4 L489.5,227.9 L487.0,229.9"/><path d="M497.4,221.8 L503.6,220.8 L509.0,221.8 L513.1,219.8 L520.2,218.3"/><path d="M498.2,205.7 L505.7,209.8 L516.0,207.7 L522.7,209.2"/><path d="M513.1,219.8 L514.4,221.8 L511.9,224.4"/><path d="M499.0,188.1 L507.3,189.6 L514.4,186.6 L518.1,190.1 L521.0,195.6 L521.0,200.7 L527.3,202.2"/><path d="M576.6,220.8 L584.5,222.9 L584.9,226.9 L589.9,229.9 L594.5,231.9 L597.0,233.9 L603.2,236.0 L606.9,236.5"/><path d="M685.4,242.5 L692.4,240.5 L696.6,236.5 L700.7,239.0 L709.9,241.5 L714.8,242.0"/><path d="M736.8,216.8 L739.3,212.3 L737.7,203.7 L746.8,201.2"/><path d="M590.8,225.4 L592.4,228.4 L592.0,225.9 L590.8,225.4"/><path d="M579.5,233.9 L584.5,234.4 L582.5,237.0 L579.5,233.9"/><path d="M592.0,238.5 L594.1,242.5 L592.4,242.0 L592.0,238.5"/><path d="M403.2,395.7 L405.2,387.2 L399.9,390.7 L403.2,395.7"/><path d="M538.9,311.6 L534.7,319.1 L536.8,319.1 L538.9,311.6"/><path d="M458.0,362.0 L464.2,362.0 L464.2,365.5 L460.0,364.5 L458.0,362.0"/><path d="M536.0,435.0 L538.9,428.5 L545.1,429.0 L547.2,435.0 L543.0,442.6 L536.8,442.6 L536.0,435.0"/><path d="M526.4,437.6 L525.6,442.6"/><path d="M557.6,370.5 L559.2,368.5 L558.8,371.5 L557.6,370.5"/><path d="M619.8,334.2 L620.6,351.4"/></g><g fill="#000" shape-rendering="crispEdges"><ellipse cx="75" cy="170.5" rx="3.5" ry="2.5" transform="rotate(0 75 170.5)"/><ellipse cx="95.5" cy="174.5" rx="5.5" ry="2" transform="rotate(-35 95.5 174.5)"/><ellipse cx="106.8" cy="171.5" rx="1.5" ry="3.5" transform="rotate(0 106.8 171.5)"/><ellipse cx="118.5" cy="171.3" rx="2.5" ry="3.5" transform="rotate(20 118.5 171.3)"/><ellipse cx="83" cy="178" rx="2.3" ry="1.8" transform="rotate(0 83 178)"/><ellipse cx="86.5" cy="191" rx="2.3" ry="3" transform="rotate(0 86.5 191)"/><ellipse cx="94" cy="185.8" rx="3.5" ry="1.7" transform="rotate(-10 94 185.8)"/><ellipse cx="74" cy="184.5" rx="2" ry="1.5" transform="rotate(0 74 184.5)"/><ellipse cx="98.3" cy="181.8" rx="1.7" ry="2" transform="rotate(0 98.3 181.8)"/><ellipse cx="113.6" cy="181.5" rx="5" ry="1.8" transform="rotate(-20 113.6 181.5)"/><ellipse cx="105.7" cy="185" rx="1.7" ry="1.2" transform="rotate(0 105.7 185)"/><ellipse cx="84" cy="196" rx="1.5" ry="2.5" transform="rotate(0 84 196)"/><ellipse cx="131" cy="178.5" rx="3" ry="1.5" transform="rotate(-20 131 178.5)"/><ellipse cx="124" cy="176" rx="1.5" ry="1.5" transform="rotate(0 124 176)"/><ellipse cx="338" cy="380.5" rx="3" ry="2.5" transform="rotate(0 338 380.5)"/><ellipse cx="341" cy="386" rx="2" ry="2" transform="rotate(0 341 386)"/><ellipse cx="463" cy="355" rx="3" ry="3" transform="rotate(0 463 355)"/><ellipse cx="493" cy="389" rx="1.5" ry="3" transform="rotate(0 493 389)"/><ellipse cx="519" cy="229" rx="1.5" ry="1.5" transform="rotate(0 519 229)"/><ellipse cx="527" cy="233" rx="1.5" ry="1.5" transform="rotate(0 527 233)"/><ellipse cx="531" cy="240" rx="1.3" ry="1.3" transform="rotate(0 531 240)"/><ellipse cx="523" cy="244" rx="1.5" ry="1.3" transform="rotate(0 523 244)"/><ellipse cx="537" cy="247" rx="1.3" ry="1.3" transform="rotate(0 537 247)"/><ellipse cx="587.5" cy="400.7" rx="1.5" ry="1.5" transform="rotate(0 587.5 400.7)"/><ellipse cx="593" cy="227" rx="1.5" ry="1" transform="rotate(0 593 227)"/><ellipse cx="583" cy="258" rx="1.5" ry="2.5" transform="rotate(0 583 258)"/><ellipse cx="584" cy="265" rx="1.2" ry="1.5" transform="rotate(0 584 265)"/><ellipse cx="592" cy="240" rx="1.5" ry="2.5" transform="rotate(0 592 240)"/><ellipse cx="594" cy="245" rx="1" ry="1.5" transform="rotate(0 594 245)"/><ellipse cx="581" cy="235" rx="2.5" ry="1.8" transform="rotate(0 581 235)"/></g></g>
<rect x="71" y="167" width="677" height="279" fill="none" stroke="#000" stroke-width="2"/>
<text x="143" y="155" font-size="26" textLength="78" lengthAdjust="spacingAndGlyphs" font-family="Liberation Sans" fill="#000" stroke="#fff" stroke-width="0.45">Rainfall</text>
<text x="235" y="155" font-size="26" textLength="81" lengthAdjust="spacingAndGlyphs" font-family="Liberation Sans" fill="#000" stroke="#fff" stroke-width="0.45">(7-day</text>
<text x="331" y="155" font-size="26" textLength="87" lengthAdjust="spacingAndGlyphs" font-family="Liberation Sans" fill="#000" stroke="#fff" stroke-width="0.45">accum.)</text>
<text x="435" y="155" font-size="26" textLength="60" lengthAdjust="spacingAndGlyphs" font-family="Liberation Sans" fill="#000" stroke="#fff" stroke-width="0.45">[mm]</text>
<text x="513" y="155" font-size="26" textLength="163" lengthAdjust="spacingAndGlyphs" font-family="Liberation Sans" fill="#000" stroke="#fff" stroke-width="0.45">14Z08Feb2024</text>
<line x1="66" y1="178.5" x2="70" y2="178.5" stroke="#000" stroke-width="1"/>
<text x="37" y="184.0" font-size="16" textLength="25" lengthAdjust="spacingAndGlyphs" font-family="Liberation Sans" stroke="#fff" stroke-width="0.2">50N</text>
<line x1="66" y1="203.5" x2="70" y2="203.5" stroke="#000" stroke-width="1"/>
<text x="37" y="209.0" font-size="16" textLength="25" lengthAdjust="spacingAndGlyphs" font-family="Liberation Sans" stroke="#fff" stroke-width="0.2">45N</text>
<line x1="66" y1="228.5" x2="70" y2="228.5" stroke="#000" stroke-width="1"/>
<text x="37" y="234.0" font-size="16" textLength="25" lengthAdjust="spacingAndGlyphs" font-family="Liberation Sans" stroke="#fff" stroke-width="0.2">40N</text>
<line x1="66" y1="254.5" x2="70" y2="254.5" stroke="#000" stroke-width="1"/>
<text x="37" y="260.0" font-size="16" textLength="25" lengthAdjust="spacingAndGlyphs" font-family="Liberation Sans" stroke="#fff" stroke-width="0.2">35N</text>
<line x1="66" y1="279.5" x2="70" y2="279.5" stroke="#000" stroke-width="1"/>
<text x="37" y="285.0" font-size="16" textLength="25" lengthAdjust="spacingAndGlyphs" font-family="Liberation Sans" stroke="#fff" stroke-width="0.2">30N</text>
<line x1="66" y1="304.5" x2="70" y2="304.5" stroke="#000" stroke-width="1"/>
<text x="37" y="310.0" font-size="16" textLength="25" lengthAdjust="spacingAndGlyphs" font-family="Liberation Sans" stroke="#fff" stroke-width="0.2">25N</text>
<line x1="66" y1="329.5" x2="70" y2="329.5" stroke="#000" stroke-width="1"/>
<text x="37" y="335.0" font-size="16" textLength="25" lengthAdjust="spacingAndGlyphs" font-family="Liberation Sans" stroke="#fff" stroke-width="0.2">20N</text>
<line x1="66" y1="354.5" x2="70" y2="354.5" stroke="#000" stroke-width="1"/>
<text x="37" y="360.0" font-size="16" textLength="25" lengthAdjust="spacingAndGlyphs" font-family="Liberation Sans" stroke="#fff" stroke-width="0.2">15N</text>
<line x1="66" y1="380.5" x2="70" y2="380.5" stroke="#000" stroke-width="1"/>
<text x="37" y="386.0" font-size="16" textLength="25" lengthAdjust="spacingAndGlyphs" font-family="Liberation Sans" stroke="#fff" stroke-width="0.2">10N</text>
<line x1="66" y1="405.5" x2="70" y2="405.5" stroke="#000" stroke-width="1"/>
<text x="45" y="411.0" font-size="16" textLength="17" lengthAdjust="spacingAndGlyphs" font-family="Liberation Sans" stroke="#fff" stroke-width="0.2">5N</text>
<line x1="66" y1="430.5" x2="70" y2="430.5" stroke="#000" stroke-width="1"/>
<text x="45" y="436.0" font-size="16" textLength="17" lengthAdjust="spacingAndGlyphs" font-family="Liberation Sans" stroke="#fff" stroke-width="0.2">EQ</text>
<line x1="72.5" y1="447" x2="72.5" y2="451" stroke="#000" stroke-width="1"/>
<text x="59.5" y="465" font-size="15" textLength="26" lengthAdjust="spacingAndGlyphs" font-family="Liberation Sans" stroke="#fff" stroke-width="0.2">80W</text>
<line x1="155.5" y1="447" x2="155.5" y2="451" stroke="#000" stroke-width="1"/>
<text x="142.5" y="465" font-size="15" textLength="26" lengthAdjust="spacingAndGlyphs" font-family="Liberation Sans" stroke="#fff" stroke-width="0.2">60W</text>
<line x1="238.5" y1="447" x2="238.5" y2="451" stroke="#000" stroke-width="1"/>
<text x="225.5" y="465" font-size="15" textLength="26" lengthAdjust="spacingAndGlyphs" font-family="Liberation Sans" stroke="#fff" stroke-width="0.2">40W</text>
<line x1="321.5" y1="447" x2="321.5" y2="451" stroke="#000" stroke-width="1"/>
<text x="308.5" y="465" font-size="15" textLength="26" lengthAdjust="spacingAndGlyphs" font-family="Liberation Sans" stroke="#fff" stroke-width="0.2">20W</text>
<line x1="404.5" y1="447" x2="404.5" y2="451" stroke="#000" stroke-width="1"/>
<text x="400.5" y="465" font-size="15" textLength="8" lengthAdjust="spacingAndGlyphs" font-family="Liberation Sans" stroke="#fff" stroke-width="0.2">0</text>
<line x1="487.5" y1="447" x2="487.5" y2="451" stroke="#000" stroke-width="1"/>
<text x="474.5" y="465" font-size="15" textLength="26" lengthAdjust="spacingAndGlyphs" font-family="Liberation Sans" stroke="#fff" stroke-width="0.2">20E</text>
<line x1="570.5" y1="447" x2="570.5" y2="451" stroke="#000" stroke-width="1"/>
<text x="557.5" y="465" font-size="15" textLength="26" lengthAdjust="spacingAndGlyphs" font-family="Liberation Sans" stroke="#fff" stroke-width="0.2">40E</text>
<line x1="653.5" y1="447" x2="653.5" y2="451" stroke="#000" stroke-width="1"/>
<text x="640.5" y="465" font-size="15" textLength="26" lengthAdjust="spacingAndGlyphs" font-family="Liberation Sans" stroke="#fff" stroke-width="0.2">60E</text>
<line x1="736.5" y1="447" x2="736.5" y2="451" stroke="#000" stroke-width="1"/>
<text x="723.5" y="465" font-size="15" textLength="26" lengthAdjust="spacingAndGlyphs" font-family="Liberation Sans" stroke="#fff" stroke-width="0.2">80E</text>
<polygon points="163,536.5 220,529 220,544" fill="#aaaaaa" stroke="#000" stroke-width="1"/>
<polygon points="563,529 620,536.5 563,544" fill="#fa3c3c" stroke="#000" stroke-width="1"/>
<rect x="220" y="528" width="57" height="16" fill="#a0e632"/>
<rect x="277" y="528" width="57" height="16" fill="#00dc00"/>
<rect x="334" y="528" width="57" height="16" fill="#00c8c8"/>
<rect x="391" y="528" width="58" height="16" fill="#1e3cff"/>
<rect x="449" y="528" width="57" height="16" fill="#e6dc32"/>
<rect x="506" y="528" width="57" height="16" fill="#f08228"/>
<path d="M220.5,544.5H563.5M220,529.5H563.5" stroke="#000" stroke-width="1"/>
<line x1="220.5" y1="529" x2="220.5" y2="545" stroke="#000" stroke-width="1"/>
<line x1="277.5" y1="529" x2="277.5" y2="545" stroke="#000" stroke-width="1"/>
<line x1="334.5" y1="529" x2="334.5" y2="545" stroke="#000" stroke-width="1"/>
<line x1="391.5" y1="529" x2="391.5" y2="545" stroke="#000" stroke-width="1"/>
<line x1="449.5" y1="529" x2="449.5" y2="545" stroke="#000" stroke-width="1"/>
<line x1="506.5" y1="529" x2="506.5" y2="545" stroke="#000" stroke-width="1"/>
<line x1="563.5" y1="529" x2="563.5" y2="545" stroke="#000" stroke-width="1"/>
<text x="217.0" y="558" font-size="13.5" textLength="7.0" lengthAdjust="spacingAndGlyphs" font-family="Liberation Sans" stroke="#fff" stroke-width="0.2">5</text>
<text x="269.75" y="558" font-size="13.5" textLength="15.5" lengthAdjust="spacingAndGlyphs" font-family="Liberation Sans" stroke="#fff" stroke-width="0.2">10</text>
<text x="326.75" y="558" font-size="13.5" textLength="15.5" lengthAdjust="spacingAndGlyphs" font-family="Liberation Sans" stroke="#fff" stroke-width="0.2">25</text>
<text x="383.75" y="558" font-size="13.5" textLength="15.5" lengthAdjust="spacingAndGlyphs" font-family="Liberation Sans" stroke="#fff" stroke-width="0.2">50</text>
<text x="437.5" y="558" font-size="13.5" textLength="24.0" lengthAdjust="spacingAndGlyphs" font-family="Liberation Sans" stroke="#fff" stroke-width="0.2">100</text>
<text x="494.5" y="558" font-size="13.5" textLength="24.0" lengthAdjust="spacingAndGlyphs" font-family="Liberation Sans" stroke="#fff" stroke-width="0.2">150</text>
<text x="551.5" y="558" font-size="13.5" textLength="24.0" lengthAdjust="spacingAndGlyphs" font-family="Liberation Sans" stroke="#fff" stroke-width="0.2">300</text>
<text x="603" y="558" font-size="14" textLength="35" lengthAdjust="spacingAndGlyphs" font-family="Liberation Sans" stroke="#fff" stroke-width="0.2">[mm]</text>
</svg></body></html>
